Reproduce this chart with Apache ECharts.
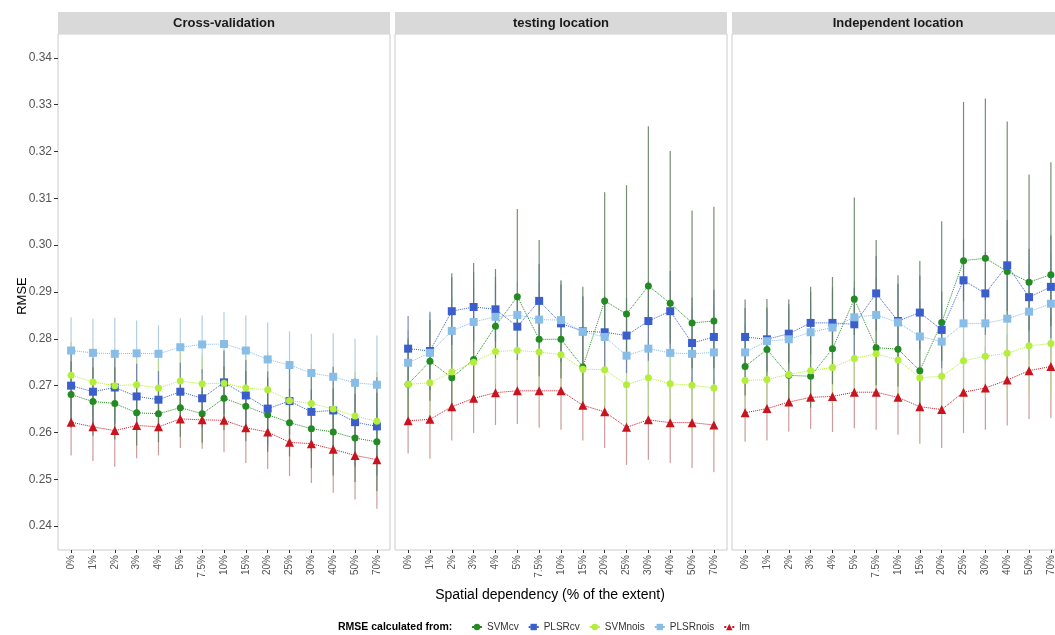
<!DOCTYPE html>
<html>
<head>
<meta charset="utf-8">
<title>RMSE by spatial dependency</title>
<script src="https://cdn.jsdelivr.net/npm/echarts@6/dist/echarts.min.js"></script>
<style>
  html, body { margin: 0; padding: 0; background: #fff; }
  #myCharts { width: 1055px; height: 635px; }
</style>
</head>
<body>
<div id="myCharts"></div>
<script>
// categories (x axis) and y ticks
var cats = ['0%', '1%', '2%', '3%', '4%', '5%', '7.5%', '10%', '15%', '20%', '25%', '30%', '40%', '50%', '70%']
var yTicks = [0.24, 0.25, 0.26, 0.27, 0.28, 0.29, 0.30, 0.31, 0.32, 0.33, 0.34]
var seriesNames = ['SVMcv', 'PLSRcv', 'SVMnois', 'PLSRnois', 'lm']

// Cross-validation
var cvSVMcv = [0.2681, 0.2666, 0.2662, 0.2642, 0.2640, 0.2653, 0.2640, 0.2673, 0.2656, 0.2638, 0.2621, 0.2608, 0.2601, 0.2588, 0.2580]
var cvPLSRcv = [0.2700, 0.2687, 0.2696, 0.2677, 0.2670, 0.2687, 0.2673, 0.2707, 0.2679, 0.2651, 0.2667, 0.2644, 0.2647, 0.2622, 0.2613]
var cvSVMnois = [0.2722, 0.2708, 0.2700, 0.2702, 0.2695, 0.2710, 0.2704, 0.2705, 0.2695, 0.2691, 0.2668, 0.2662, 0.2650, 0.2635, 0.2624]
var cvPLSRnois = [0.2775, 0.2770, 0.2768, 0.2769, 0.2768, 0.2782, 0.2788, 0.2789, 0.2775, 0.2756, 0.2744, 0.2727, 0.2719, 0.2706, 0.2702]
var cvLm = [0.2622, 0.2612, 0.2604, 0.2615, 0.2612, 0.2629, 0.2627, 0.2626, 0.2610, 0.2601, 0.2579, 0.2576, 0.2564, 0.2551, 0.2542]
var cvSd = [0.0071, 0.0073, 0.0077, 0.0070, 0.0061, 0.0062, 0.0062, 0.0068, 0.0075, 0.0079, 0.0072, 0.0084, 0.0093, 0.0094, 0.0105]

// testing location
var tSVMcv = [0.2703, 0.2752, 0.2717, 0.2756, 0.2827, 0.2890, 0.2799, 0.2799, 0.2740, 0.2881, 0.2853, 0.2913, 0.2876, 0.2834, 0.2838]
var tPLSRcv = [0.2779, 0.2774, 0.2859, 0.2868, 0.2863, 0.2826, 0.2881, 0.2833, 0.2816, 0.2814, 0.2807, 0.2838, 0.2859, 0.2791, 0.2804]
var tSVMnois = [0.2703, 0.2706, 0.2729, 0.2750, 0.2773, 0.2775, 0.2772, 0.2766, 0.2735, 0.2734, 0.2702, 0.2717, 0.2704, 0.2701, 0.2695]
var tPLSRnois = [0.2749, 0.2770, 0.2817, 0.2836, 0.2847, 0.2851, 0.2841, 0.2840, 0.2815, 0.2804, 0.2764, 0.2779, 0.2770, 0.2768, 0.2771]
var tLm = [0.2625, 0.2628, 0.2655, 0.2673, 0.2685, 0.2689, 0.2689, 0.2689, 0.2658, 0.2644, 0.2611, 0.2627, 0.2621, 0.2621, 0.2616]
var tSd = [0.0070, 0.0084, 0.0072, 0.0074, 0.0069, 0.0071, 0.0079, 0.0083, 0.0075, 0.0077, 0.0080, 0.0085, 0.0086, 0.0097, 0.0101]
var tSvmTop = [0.2800, 0.2840, 0.2940, 0.2962, 0.2949, 0.3077, 0.3011, 0.2925, 0.2911, 0.3113, 0.3128, 0.3254, 0.3201, 0.3074, 0.3082]

// Independent location
var iSVMcv = [0.2741, 0.2777, 0.2722, 0.2720, 0.2779, 0.2885, 0.2781, 0.2778, 0.2732, 0.2835, 0.2967, 0.2972, 0.2944, 0.2921, 0.2937]
var iPLSRcv = [0.2804, 0.2799, 0.2811, 0.2834, 0.2834, 0.2831, 0.2897, 0.2838, 0.2856, 0.2819, 0.2925, 0.2897, 0.2957, 0.2889, 0.2911]
var iSVMnois = [0.2711, 0.2713, 0.2724, 0.2732, 0.2739, 0.2758, 0.2768, 0.2755, 0.2717, 0.2720, 0.2753, 0.2763, 0.2769, 0.2785, 0.2790]
var iPLSRnois = [0.2771, 0.2795, 0.2799, 0.2814, 0.2824, 0.2846, 0.2851, 0.2835, 0.2805, 0.2794, 0.2833, 0.2833, 0.2843, 0.2858, 0.2875]
var iLm = [0.2642, 0.2651, 0.2665, 0.2675, 0.2677, 0.2686, 0.2686, 0.2675, 0.2655, 0.2649, 0.2686, 0.2695, 0.2712, 0.2732, 0.2741]
var iSd = [0.0062, 0.0068, 0.0063, 0.0067, 0.0076, 0.0077, 0.0080, 0.0080, 0.0079, 0.0082, 0.0087, 0.0089, 0.0097, 0.0103, 0.0110]
var iSvmTop = [0.2884, 0.2885, 0.2884, 0.2911, 0.2932, 0.3102, 0.3011, 0.2936, 0.2966, 0.3051, 0.3306, 0.3313, 0.3264, 0.3151, 0.3177]

var colors = ['#228B22', '#3A5FCD', '#B3EE3A', '#87BDE6', '#C8141E']
// error bars look greyed out in the original
var errColors = ['#5d7a5d', '#6c78a8', '#b9d68f', '#a6c6de', '#c28a8a']
var symbols = ['circle', 'rect', 'circle', 'rect', 'triangle']
var symbolSizes = [7, 8, 7, 8, 9]

var panels = [
  { title: 'Cross-validation', left: 58, vals: [cvSVMcv, cvPLSRcv, cvSVMnois, cvPLSRnois, cvLm], sd: cvSd, svmTop: null },
  { title: 'testing location', left: 395, vals: [tSVMcv, tPLSRcv, tSVMnois, tPLSRnois, tLm], sd: tSd, svmTop: tSvmTop },
  { title: 'Independent location', left: 732, vals: [iSVMcv, iPLSRcv, iSVMnois, iPLSRnois, iLm], sd: iSd, svmTop: iSvmTop }
]

var panelTop = 34
var panelW = 332
var panelH = 516
var yMin = 0.2349
var yMax = 0.3451
var catIdx = cats.map(function (c, i) { return i })

var grids = [], xAxes = [], yAxes = [], series = [], graphics = []

panels.forEach(function (p, pi) {
  grids.push({
    left: p.left, top: panelTop, width: panelW, height: panelH,
    show: true, borderColor: '#cccccc', borderWidth: 1, backgroundColor: '#fff',
    containLabel: false, outerBoundsMode: 'none'
  })
  xAxes.push({
    type: 'value', gridIndex: pi, min: -0.6, max: 14.6,
    splitLine: { show: false },
    axisLine: { show: false, onZero: false },
    axisTick: { show: true, customValues: catIdx, length: 3, lineStyle: { color: '#333' } },
    axisLabel: {
      customValues: catIdx, rotate: 90, margin: 5, fontSize: 10, color: '#555',
      formatter: function (v) { return cats[v] }
    }
  })
  yAxes.push({
    type: 'value', gridIndex: pi, min: yMin, max: yMax,
    splitLine: { show: false },
    axisLine: { show: false, onZero: false },
    axisTick: { show: pi === 0, customValues: yTicks, length: 4, lineStyle: { color: '#333' } },
    axisLabel: {
      show: pi === 0, customValues: yTicks, margin: 6, fontSize: 12, color: '#555',
      formatter: function (v) { return v.toFixed(2) }
    }
  })

  // error bars first so they sit under the points; lm drawn first, SVMcv last
  for (var si = p.vals.length - 1; si >= 0; si--) {
    (function (si) {
      var vals = p.vals[si]
      var col = errColors[si]
      series.push({
        type: 'custom', xAxisIndex: pi, yAxisIndex: pi, silent: true, z: 1,
        data: vals.map(function (v, j) {
          var top = (si === 0 && p.svmTop) ? p.svmTop[j] : v + p.sd[j]
          return [j, v - p.sd[j], top]
        }),
        encode: { x: 0, y: [1, 2] },
        renderItem: function (params, api) {
          var a = api.coord([api.value(0), api.value(1)])
          var b = api.coord([api.value(0), api.value(2)])
          return {
            type: 'line',
            shape: { x1: a[0], y1: a[1], x2: b[0], y2: b[1] },
            style: { stroke: col, lineWidth: 1.2, opacity: 0.85 }
          }
        }
      })
    })(si)
  }
  p.vals.forEach(function (vals, si) {
    series.push({
      name: seriesNames[si], type: 'line', xAxisIndex: pi, yAxisIndex: pi, z: 3 + si,
      data: vals.map(function (v, j) { return [j, v] }),
      symbol: symbols[si], symbolSize: symbolSizes[si], showSymbol: true,
      lineStyle: { type: 'dotted', width: 1, color: colors[si] },
      itemStyle: { color: colors[si] }
    })
  })

  // facet strip
  graphics.push({
    type: 'rect', shape: { x: p.left, y: 12, width: panelW, height: 22 },
    style: { fill: '#d9d9d9' }, silent: true
  })
  graphics.push({
    type: 'text', x: p.left + panelW / 2, y: 23, silent: true,
    style: { text: p.title, fontSize: 13, fontWeight: 'bold', fill: '#1a1a1a', align: 'center', verticalAlign: 'middle', fontFamily: 'Liberation Sans' }
  })
})

graphics.push({
  type: 'text', x: 22, y: 296, rotation: Math.PI / 2, silent: true,
  style: { text: 'RMSE', fontSize: 13, fill: '#000', align: 'center', verticalAlign: 'middle', fontFamily: 'Liberation Sans' }
})
graphics.push({
  type: 'text', x: 550, y: 595, silent: true,
  style: { text: 'Spatial dependency (% of the extent)', fontSize: 14, fill: '#000', align: 'center', verticalAlign: 'middle', fontFamily: 'Liberation Sans' }
})
graphics.push({
  type: 'text', x: 338, y: 627, silent: true,
  style: { text: 'RMSE calculated from:', fontSize: 10.5, fontWeight: 'bold', fill: '#000', align: 'left', verticalAlign: 'middle', fontFamily: 'Liberation Sans' }
})

var myCharts = echarts.init(document.getElementById('myCharts'))
myCharts.setOption({
  animation: false,
  textStyle: { fontFamily: 'Liberation Sans' },
  grid: grids,
  xAxis: xAxes,
  yAxis: yAxes,
  legend: {
    data: seriesNames, left: 466, top: 617, itemWidth: 10, itemHeight: 8, itemGap: 9,
    textStyle: { fontSize: 10, color: '#333' }
  },
  series: series,
  graphic: graphics
})
</script>
</body>
</html>
